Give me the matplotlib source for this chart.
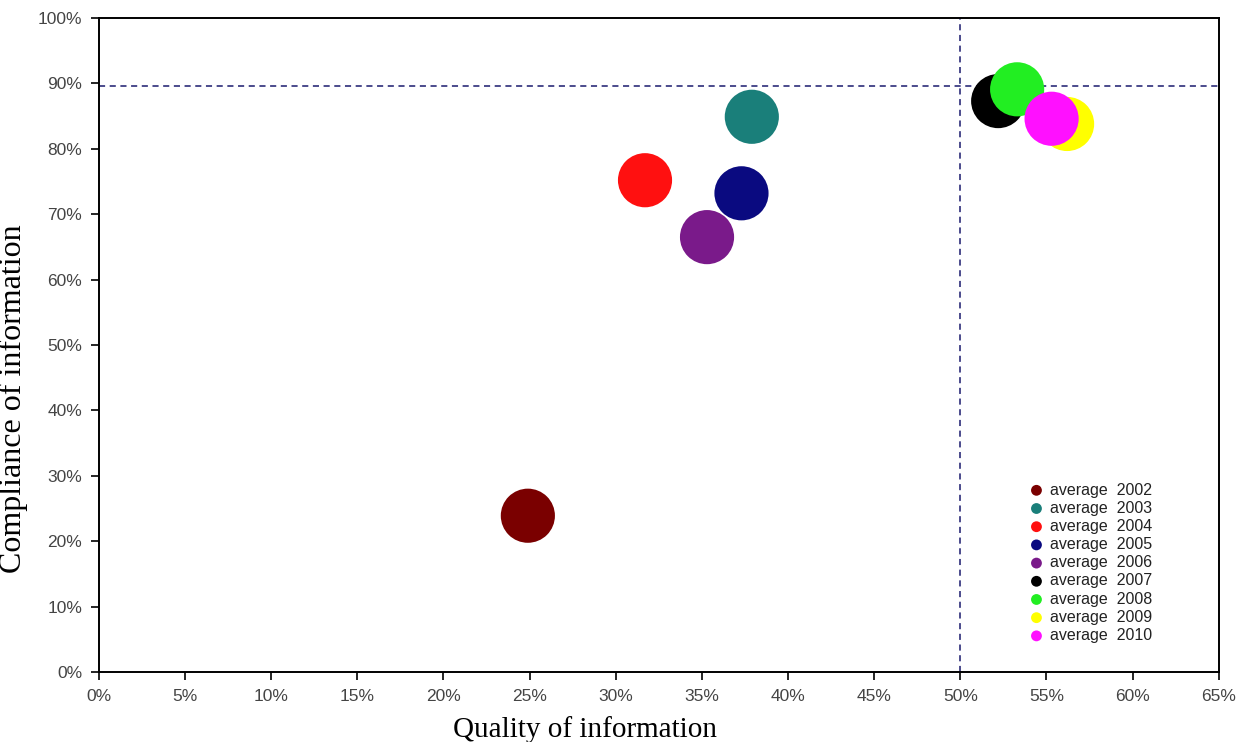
import matplotlib
matplotlib.use("Agg")
import matplotlib.pyplot as plt
from matplotlib.ticker import PercentFormatter, MultipleLocator

# average scores per year
years = [2002, 2003, 2004, 2005, 2006, 2007, 2008, 2009, 2010]
quality = [24.9, 37.9, 31.7, 37.3, 35.3, 52.2, 53.3, 56.2, 55.3]
compliance = [23.9, 84.9, 75.2, 73.2, 66.5, 87.3, 89.1, 83.8, 84.6]
colors = ["#7a0000", "#1a7f7a", "#ff1010", "#0a0a80", "#7a1a8a",
          "#000000", "#22ee22", "#ffff00", "#ff10ff"]

quality_ref = 50
compliance_ref = 89.6

tick_font = ["Liberation Sans Narrow", "Liberation Sans", "DejaVu Sans"]

fig = plt.figure(figsize=(12.36, 7.42), dpi=100)
ax = fig.add_axes([0.080, 0.0943, 0.906, 0.8814])

for yr, q, c, col in zip(years, quality, compliance, colors):
    ax.scatter(q, c, s=1520, color=col, edgecolors="none", label=f"average  {yr}", zorder=3)

ax.axvline(quality_ref, color="#1a1a6e", lw=1.1, ls=(0, (4, 3)), zorder=2)
ax.axhline(compliance_ref, color="#1a1a6e", lw=1.1, ls=(0, (4, 3)), zorder=2)

ax.set_xlim(0, 65)
ax.set_ylim(0, 100)
ax.xaxis.set_major_locator(MultipleLocator(5))
ax.yaxis.set_major_locator(MultipleLocator(10))
ax.xaxis.set_major_formatter(PercentFormatter(decimals=0))
ax.yaxis.set_major_formatter(PercentFormatter(decimals=0))

for sp in ax.spines.values():
    sp.set_linewidth(1.4)
    sp.set_color("black")
ax.tick_params(direction="out", length=6, width=1.2, labelsize=12.5, labelcolor="#444444", pad=6)
for lab in ax.get_xticklabels() + ax.get_yticklabels():
    lab.set_family(tick_font)

ax.set_xlabel("Quality of information", family="Liberation Serif", fontsize=21)
ax.set_ylabel("Compliance of information", family="Liberation Serif", fontsize=23)
ax.xaxis.set_label_coords(0.434, -0.067)
ax.yaxis.set_label_coords(-0.063, 0.418)

leg = ax.legend(loc="upper left", bbox_to_anchor=(0.823, 0.302), frameon=False,
                markerscale=0.2, fontsize=11.5, labelspacing=0.2, handletextpad=0.35,
                handlelength=1.0, borderpad=0)
for t in leg.get_texts():
    t.set_family(tick_font)
    t.set_color("#222222")

fig.savefig("out.png", dpi=100, facecolor="white")
